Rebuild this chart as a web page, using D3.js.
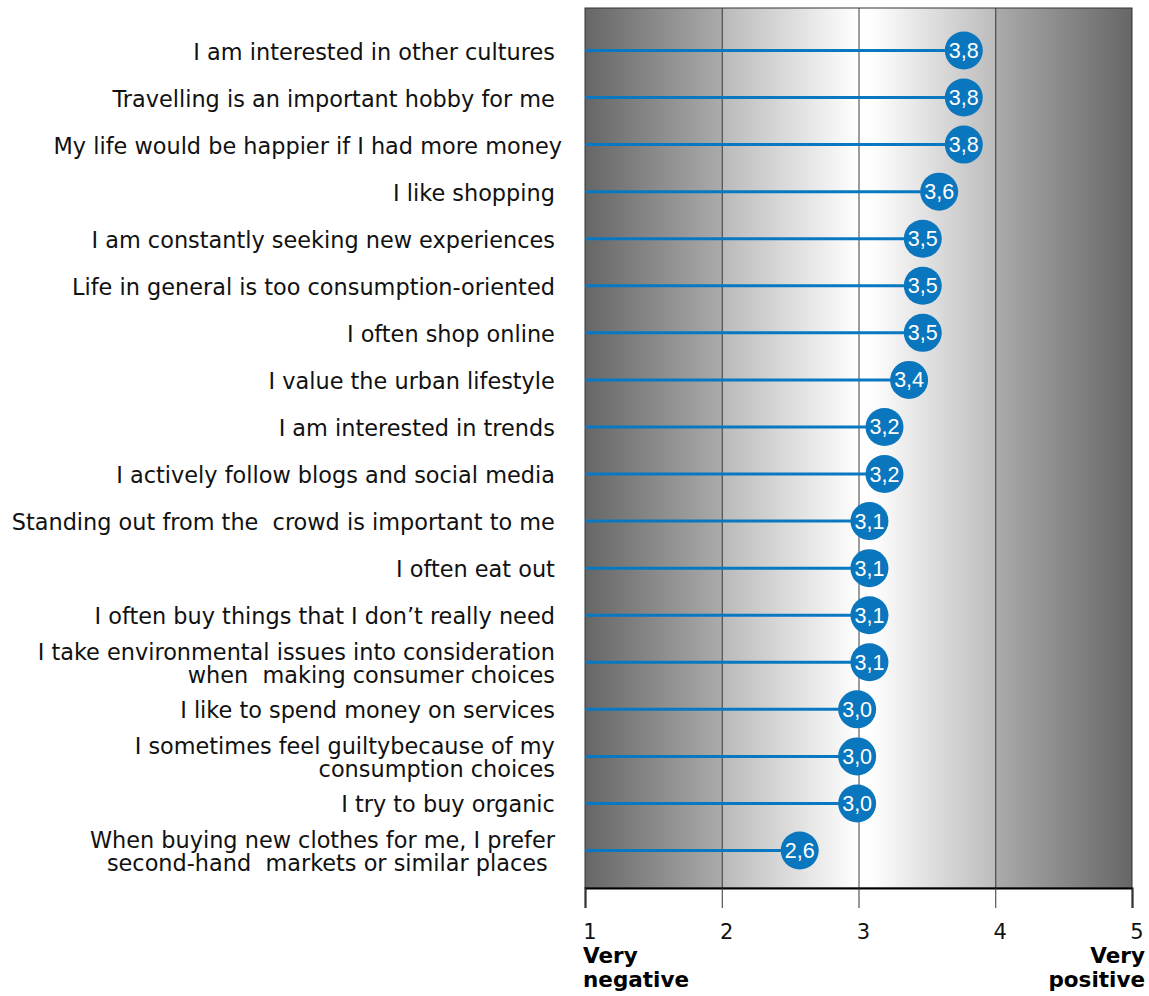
<!DOCTYPE html>
<html>
<head>
<meta charset="utf-8">
<script src="https://cdn.jsdelivr.net/npm/d3@7"></script>
<style>
  html, body { margin: 0; padding: 0; background: #fff; }
  svg { display: block; }
  .cat { font-family: "DejaVu Sans", Verdana, sans-serif; font-size: 22.4px; fill: #111; white-space: pre; }
  .tick-label { font-family: "DejaVu Sans", Verdana, sans-serif; font-size: 21px; fill: #111; }
  .end-label { font-family: "DejaVu Sans", Verdana, sans-serif; font-size: 21.5px; font-weight: bold; fill: #000; }
  .val { font-family: "Liberation Sans", Arial, sans-serif; font-size: 21.5px; fill: #fff; }
</style>
</head>
<body>
<svg id="chart" width="1149" height="996"></svg>
<script>
// Statements (each entry is an array of lines)
const categories = [
  ["I am interested in other cultures "],
  ["Travelling is an important hobby for me "],
  ["My life would be happier if I had more money"],
  ["I like shopping "],
  ["I am constantly seeking new experiences "],
  ["Life in general is too consumption-oriented "],
  ["I often shop online "],
  ["I value the urban lifestyle "],
  ["I am interested in trends "],
  ["I actively follow blogs and social media "],
  ["Standing out from the  crowd is important to me "],
  ["I often eat out "],
  ["I often buy things that I don\u2019t really need "],
  ["I take environmental issues into consideration ", "when  making consumer choices "],
  ["I like to spend money on services "],
  ["I sometimes feel guiltybecause of my ", "consumption choices "],
  ["I try to buy organic "],
  ["When buying new clothes for me, I prefer ", "second-hand  markets or similar places  "]
];

// Mean agreement on a 1–5 scale
const values = [3.77, 3.77, 3.77, 3.59, 3.47, 3.47, 3.47, 3.37, 3.19, 3.19, 3.08, 3.08, 3.08, 3.08, 2.99, 2.99, 2.99, 2.57];

const tickValues = [1, 2, 3, 4, 5];
const leftEndLabel = ["Very", "negative"];
const rightEndLabel = ["Very", "positive"];

const svg = d3.select("#chart");

const plot = { left: 585, right: 1132, top: 8, bottom: 888 };

const x = d3.scaleLinear().domain([1, 5]).range([plot.left, plot.right]);
const y = d3.scalePoint()
  .domain(d3.range(categories.length))
  .range([50.5, 850.5]);

const fmt = v => d3.format(".1f")(v).replace(".", ",");

// Background: dark at both ends, white in the middle of the scale
const defs = svg.append("defs");
const grad = defs.append("linearGradient")
  .attr("id", "bg")
  .attr("gradientUnits", "userSpaceOnUse")
  .attr("x1", x(1)).attr("x2", x(5)).attr("y1", 0).attr("y2", 0);
[
  [0, "#666666"], [0.25, "#ababab"], [0.25, "#b9b9b9"],
  [0.5, "#ffffff"], [0.53, "#fdfdfd"], [0.75, "#bcbcbc"],
  [0.75, "#ababab"], [1, "#666666"]
].forEach(([o, c]) => grad.append("stop").attr("offset", o).attr("stop-color", c));

svg.append("rect")
  .attr("x", x(1)).attr("y", plot.top)
  .attr("width", x(5) - x(1)).attr("height", plot.bottom - plot.top)
  .attr("fill", "url(#bg)")
  .attr("stroke", "#333").attr("stroke-width", 1);

// Vertical reference lines at the inner ticks
svg.append("g").selectAll("line")
  .data(tickValues.slice(1, -1))
  .join("line")
  .attr("x1", d => x(d) + 0.5).attr("x2", d => x(d) + 0.5)
  .attr("y1", plot.top).attr("y2", plot.bottom)
  .attr("stroke", "#3a3a3a").attr("stroke-width", 1);

// Bottom axis
const axis = svg.append("g")
  .attr("transform", `translate(0,${plot.bottom})`)
  .call(d3.axisBottom(x).tickValues(tickValues).tickSize(20).tickFormat(""));
axis.select(".domain").attr("stroke", "#000").attr("stroke-width", 2);
axis.selectAll(".tick line").attr("stroke", "#333").attr("stroke-width", 1);

svg.append("g").selectAll("text")
  .data(tickValues)
  .join("text")
  .attr("class", "tick-label")
  .attr("x", d => x(d) + 5)
  .attr("y", 939)
  .attr("text-anchor", "middle")
  .text(d => d);

svg.append("text").attr("class", "end-label")
  .attr("x", x(1) - 2).attr("y", 963)
  .selectAll("tspan").data(leftEndLabel).join("tspan")
  .attr("x", x(1) - 2).attr("dy", (d, i) => i ? 24 : 0).text(d => d);

svg.append("text").attr("class", "end-label")
  .attr("text-anchor", "end")
  .attr("x", x(5) + 13).attr("y", 963)
  .selectAll("tspan").data(rightEndLabel).join("tspan")
  .attr("x", x(5) + 13).attr("dy", (d, i) => i ? 24 : 0).text(d => d);

// Category labels
const lineH = 23;
svg.append("g").selectAll("text")
  .data(categories)
  .join("text")
  .attr("class", "cat")
  .attr("text-anchor", "end")
  .attr("xml:space", "preserve")
  .each(function (lines, i) {
    const t = d3.select(this);
    const y0 = y(i) + 9 - (lines.length - 1) * lineH / 2;
    lines.forEach((ln, k) => {
      t.append("tspan").attr("x", 562).attr("y", y0 + k * lineH).text(ln);
    });
  });

// Lollipops
const rows = svg.append("g").selectAll("g")
  .data(values)
  .join("g");

rows.append("line")
  .attr("x1", x(1)).attr("x2", d => x(d))
  .attr("y1", (d, i) => y(i)).attr("y2", (d, i) => y(i))
  .attr("stroke", "#0a78c0").attr("stroke-width", 3);

rows.append("circle")
  .attr("cx", d => x(d)).attr("cy", (d, i) => y(i))
  .attr("r", 19)
  .attr("fill", "#0a76bd");

rows.append("text")
  .attr("class", "val")
  .attr("x", d => x(d)).attr("y", (d, i) => y(i) + 7.5)
  .attr("text-anchor", "middle")
  .text(d => fmt(d));
</script>
</body>
</html>
